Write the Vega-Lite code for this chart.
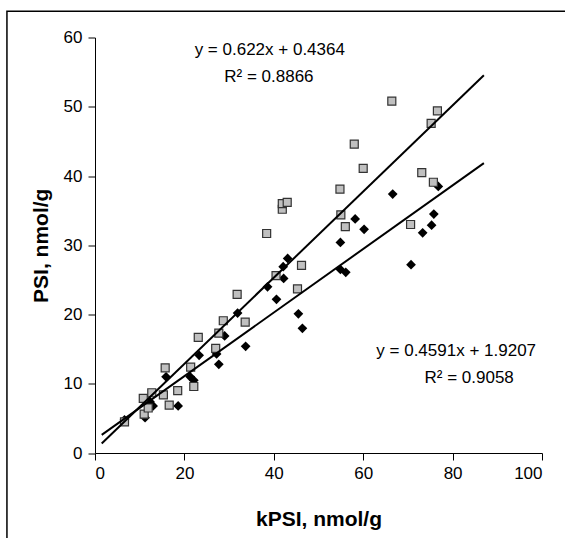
{
  "$schema": "https://vega.github.io/schema/vega-lite/v6.json",
  "width": 447,
  "height": 415.5,
  "autosize": "none",
  "padding": {"left": 95, "top": 37.5, "right": 23, "bottom": 85},
  "background": "white",
  "config": {
    "view": {"stroke": null},
    "font": "Liberation Sans",
    "axis": {
      "grid": false,
      "domainColor": "black",
      "domainWidth": 1,
      "tickColor": "black",
      "tickWidth": 1,
      "tickSize": 7,
      "labelColor": "black",
      "labelFont": "Liberation Sans",
      "labelFontSize": 17,
      "titleColor": "black",
      "titleFont": "Liberation Sans",
      "titleFontSize": 21,
      "titleFontWeight": "bold"
    },
    "axisX": {"labelPadding": 5, "titlePadding": 27},
    "axisY": {"labelPadding": 6, "titlePadding": 12}
  },
  "datasets": {
    "frame": [{"kPSI": -19.7, "kPSI2": 107, "PSI": 63.8, "PSI2": -13}],
    "squares": [
      {"kPSI": 6.6, "PSI": 4.5}, {"kPSI": 11.0, "PSI": 5.6}, {"kPSI": 11.9, "PSI": 6.5},
      {"kPSI": 10.8, "PSI": 7.9}, {"kPSI": 12.7, "PSI": 8.7}, {"kPSI": 15.3, "PSI": 8.4},
      {"kPSI": 16.6, "PSI": 6.9}, {"kPSI": 18.5, "PSI": 9.0}, {"kPSI": 15.7, "PSI": 12.3},
      {"kPSI": 21.4, "PSI": 12.4}, {"kPSI": 22.1, "PSI": 9.6}, {"kPSI": 23.1, "PSI": 16.7},
      {"kPSI": 27.0, "PSI": 15.1}, {"kPSI": 27.7, "PSI": 17.3}, {"kPSI": 28.7, "PSI": 19.1},
      {"kPSI": 33.6, "PSI": 18.9}, {"kPSI": 31.8, "PSI": 22.9}, {"kPSI": 40.5, "PSI": 25.6},
      {"kPSI": 45.3, "PSI": 23.7}, {"kPSI": 46.2, "PSI": 27.1}, {"kPSI": 38.4, "PSI": 31.7},
      {"kPSI": 41.9, "PSI": 35.2}, {"kPSI": 41.9, "PSI": 36.0}, {"kPSI": 43.0, "PSI": 36.2},
      {"kPSI": 54.8, "PSI": 38.1}, {"kPSI": 55.0, "PSI": 34.4}, {"kPSI": 56.0, "PSI": 32.7},
      {"kPSI": 58.0, "PSI": 44.6}, {"kPSI": 60.0, "PSI": 41.1}, {"kPSI": 66.4, "PSI": 50.8},
      {"kPSI": 70.6, "PSI": 33.0}, {"kPSI": 73.1, "PSI": 40.5}, {"kPSI": 75.2, "PSI": 47.6},
      {"kPSI": 76.6, "PSI": 49.4}, {"kPSI": 75.7, "PSI": 39.1}
    ],
    "diamonds": [
      {"kPSI": 6.6, "PSI": 4.8}, {"kPSI": 11.2, "PSI": 5.1}, {"kPSI": 12.3, "PSI": 7.4},
      {"kPSI": 13.0, "PSI": 6.8}, {"kPSI": 15.9, "PSI": 11.0}, {"kPSI": 18.6, "PSI": 6.8},
      {"kPSI": 21.3, "PSI": 11.0}, {"kPSI": 22.1, "PSI": 10.5}, {"kPSI": 23.3, "PSI": 14.1},
      {"kPSI": 27.2, "PSI": 14.3}, {"kPSI": 27.7, "PSI": 12.8}, {"kPSI": 29.0, "PSI": 16.9},
      {"kPSI": 33.7, "PSI": 15.4}, {"kPSI": 31.9, "PSI": 20.2}, {"kPSI": 38.6, "PSI": 24.0},
      {"kPSI": 40.6, "PSI": 22.2}, {"kPSI": 42.1, "PSI": 26.9}, {"kPSI": 42.2, "PSI": 25.2},
      {"kPSI": 43.1, "PSI": 28.1}, {"kPSI": 45.5, "PSI": 20.1}, {"kPSI": 46.4, "PSI": 18.0},
      {"kPSI": 54.9, "PSI": 26.5}, {"kPSI": 56.1, "PSI": 26.1}, {"kPSI": 54.9, "PSI": 30.4},
      {"kPSI": 58.2, "PSI": 33.8}, {"kPSI": 60.2, "PSI": 32.3}, {"kPSI": 66.6, "PSI": 37.4},
      {"kPSI": 70.7, "PSI": 27.2}, {"kPSI": 73.3, "PSI": 31.8}, {"kPSI": 75.3, "PSI": 32.9},
      {"kPSI": 75.8, "PSI": 34.5}, {"kPSI": 76.8, "PSI": 38.5}
    ],
    "fit": [
      {"series": "upper", "kPSI": 1.5, "PSI": 1.37},
      {"series": "upper", "kPSI": 87, "PSI": 54.55},
      {"series": "lower", "kPSI": 1.5, "PSI": 2.61},
      {"series": "lower", "kPSI": 87, "PSI": 41.86}
    ],
    "labels": [
      {"text": "y = 0.622x + 0.4364", "kPSI": 39.1, "PSI": 58.2},
      {"text": "R² = 0.8866", "kPSI": 38.9, "PSI": 54.3},
      {"text": "y = 0.4591x + 1.9207", "kPSI": 80.8, "PSI": 14.7},
      {"text": "R² = 0.9058", "kPSI": 83.7, "PSI": 10.8}
    ]
  },
  "layer": [
    {
      "data": {"name": "frame"},
      "mark": {"type": "rect", "fill": null, "stroke": "black", "strokeWidth": 1.5, "clip": false},
      "encoding": {
        "x": {"field": "kPSI", "type": "quantitative", "scale": {"domain": [0, 100], "nice": false}, "title": "kPSI, nmol/g", "axis": {"values": [0, 20, 40, 60, 80, 100]}},
        "x2": {"field": "kPSI2"},
        "y": {"field": "PSI", "type": "quantitative", "scale": {"domain": [0, 60], "nice": false}, "title": "PSI, nmol/g", "axis": {"values": [0, 10, 20, 30, 40, 50, 60]}},
        "y2": {"field": "PSI2"}
      }
    },
    {
      "data": {"name": "diamonds"},
      "mark": {"type": "point", "shape": "diamond", "filled": true, "color": "black", "size": 95, "opacity": 1},
      "encoding": {
        "x": {"field": "kPSI", "type": "quantitative", "scale": {"domain": [0, 100], "nice": false}, "title": "kPSI, nmol/g"},
        "y": {"field": "PSI", "type": "quantitative", "scale": {"domain": [0, 60], "nice": false}, "title": "PSI, nmol/g"}
      }
    },
    {
      "data": {"name": "squares"},
      "mark": {"type": "point", "shape": "square", "filled": true, "fill": "#c0c0c0", "stroke": "#333333", "strokeWidth": 1.2, "size": 64, "opacity": 1},
      "encoding": {
        "x": {"field": "kPSI", "type": "quantitative", "scale": {"domain": [0, 100], "nice": false}, "title": "kPSI, nmol/g"},
        "y": {"field": "PSI", "type": "quantitative", "scale": {"domain": [0, 60], "nice": false}, "title": "PSI, nmol/g"}
      }
    },
    {
      "data": {"name": "fit"},
      "mark": {"type": "line", "color": "black", "strokeWidth": 2},
      "encoding": {
        "x": {"field": "kPSI", "type": "quantitative", "scale": {"domain": [0, 100], "nice": false}, "title": "kPSI, nmol/g"},
        "y": {"field": "PSI", "type": "quantitative", "scale": {"domain": [0, 60], "nice": false}, "title": "PSI, nmol/g"},
        "detail": {"field": "series", "type": "nominal"}
      }
    },
    {
      "data": {"name": "labels"},
      "mark": {"type": "text", "font": "Liberation Sans", "fontSize": 17, "color": "black", "align": "center", "baseline": "middle"},
      "encoding": {
        "x": {"field": "kPSI", "type": "quantitative", "scale": {"domain": [0, 100], "nice": false}, "title": "kPSI, nmol/g"},
        "y": {"field": "PSI", "type": "quantitative", "scale": {"domain": [0, 60], "nice": false}, "title": "PSI, nmol/g"},
        "text": {"field": "text", "type": "nominal"}
      }
    }
  ]
}
